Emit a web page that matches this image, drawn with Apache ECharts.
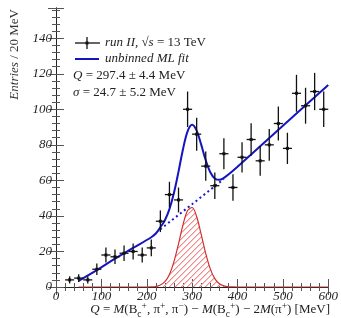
<!DOCTYPE html>
<html>
<head>
<meta charset="utf-8">
<script src="https://cdn.jsdelivr.net/npm/echarts@6/dist/echarts.min.js"></script>
<style>
  html, body { margin: 0; padding: 0; background: #fff; }
  #chart { width: 341px; height: 318px; }
</style>
</head>
<body>
<div id="chart"></div>
<script>
// bin centres (20 MeV bins) and entries
const binQ = [30, 50, 70, 90, 110, 130, 150, 170, 190, 210, 230, 250, 270, 290, 310,
              330, 350, 370, 390, 410, 430, 450, 470, 490, 510, 530, 550, 570, 590];
const entries = [4, 5, 4, 10, 18, 17, 19, 20, 18, 22, 37, 52, 49, 100, 86,
                 68, 57, 75, 56, 73, 83, 71, 80, 92, 78, 109, 102, 110, 100];
const entryErr = [2, 2.2, 2, 3.2, 4.2, 4.1, 4.4, 4.5, 4.2, 4.7, 6.1, 7.2, 7, 10, 9.3,
                  8.2, 7.5, 8.7, 7.5, 8.5, 9.1, 8.4, 8.9, 9.6, 8.8, 10.4, 10.1, 10.5, 10];

// total fit curve
const fitQ = [50, 90, 130, 170, 210, 220, 230, 240, 250, 260, 270, 280,
              290, 300, 310, 320, 330, 340, 350, 360, 370, 380, 400, 500, 600];
const fitY = [3.5, 9.5, 16, 22, 28, 30.1, 33.6, 37.6, 43.8, 53, 64.9, 77.7,
              87.6, 91.3, 88, 80.1, 71.3, 64.6, 61.1, 60.3, 61.4, 63.3, 67.7, 90.7, 113.7];

// background under the peak (dotted)
const bkgQ = [230, 300, 370];
const bkgY = [32.5, 46.6, 60.8];

// signal component (hatched)
const sigQ = [50, 200, 210, 220, 230, 240, 250, 260, 270, 280, 290, 300, 310,
              320, 330, 340, 350, 360, 370, 380, 390, 400, 600];
const sigY = [0, 0, 0.05, 0.3, 1.1, 3.0, 7.1, 14.3, 24.3, 35.1, 43, 44.75, 39.5,
              29.6, 18.8, 10.2, 4.7, 1.8, 0.6, 0.15, 0.02, 0, 0];

const yTicks = [0, 20, 40, 60, 80, 100, 120, 140];

const pts = binQ.map((q, i) => [q, entries[i], entryErr[i]]);
const pairs = (xs, ys) => xs.map((x, i) => [x, ys[i]]);

// hatch pattern for the signal area: light red diagonals
const hatch = document.createElement('canvas');
hatch.width = 6; hatch.height = 6;
const hc = hatch.getContext('2d');
for (let i = 0; i < 6; i++) {
    hc.fillStyle = '#f08a8a';
    hc.fillRect(i, 5 - i, 1, 1);
    hc.fillStyle = '#f8caca';
    hc.fillRect((i + 1) % 6, 5 - i, 1, 1);
}

const FONT = 'Liberation Serif';
const axisCommon = {
    axisLine: { show: true, lineStyle: { color: '#222', width: 1 } },
    splitLine: { show: false },
    axisTick: { show: true, inside: true, length: 8, lineStyle: { color: '#555' } },
    minorTick: { show: true, splitNumber: 5, length: 4, lineStyle: { color: '#555' } }
};
const labelStyle = { fontFamily: FONT, fontStyle: 'italic', fontSize: 13, color: '#222' };

const chart = echarts.init(document.getElementById('chart'));
chart.setOption({
    animation: false,
    grid: { left: 56, right: 10, top: 8, bottom: 31 },
    xAxis: [
        Object.assign({ type: 'value', min: 0, max: 600, interval: 100, position: 'bottom',
            axisLabel: Object.assign({ margin: 3 }, labelStyle) }, axisCommon),
        Object.assign({ type: 'value', min: 0, max: 600, interval: 100, position: 'top',
            axisLabel: { show: false } }, axisCommon)
    ],
    yAxis: [
        Object.assign({ type: 'value', min: 0, max: 157, interval: 20, position: 'left',
            axisLabel: Object.assign({ margin: 4, showMaxLabel: false,
                formatter: v => yTicks.indexOf(v) >= 0 ? String(v) : '' }, labelStyle) }, axisCommon),
        Object.assign({ type: 'value', min: 0, max: 157, interval: 20, position: 'right',
            axisLabel: { show: false } }, axisCommon)
    ],
    series: [
        {
            type: 'line', data: pairs(sigQ, sigY), smooth: 0.35,
            showSymbol: false, z: 1,
            lineStyle: { color: '#d03030', width: 1.2 },
            areaStyle: { color: { image: hatch, repeat: 'repeat' }, opacity: 1 }
        },
        {
            type: 'line', data: pairs(bkgQ, bkgY), smooth: 0.3, showSymbol: false, z: 2,
            lineStyle: { color: '#1a1acc', width: 2, type: [2, 3] }
        },
        {
            type: 'line', data: pairs(fitQ, fitY), smooth: 0.35,
            showSymbol: false, z: 3,
            lineStyle: { color: '#1414c0', width: 2 }
        },
        {
            type: 'custom', z: 4, clip: true, data: pts,
            encode: { x: 0, y: 1 },
            renderItem: function (params, api) {
                const q = api.value(0), n = api.value(1), e = api.value(2);
                const c = api.coord([q, n]);
                const t = api.coord([q, n + e]);
                const b = api.coord([q, Math.max(0, n - e)]);
                const l = api.coord([q - 10, n]);
                const r = api.coord([q + 10, n]);
                const st = { stroke: '#111', lineWidth: 1.3 };
                return {
                    type: 'group',
                    children: [
                        { type: 'line', shape: { x1: t[0], y1: t[1], x2: b[0], y2: b[1] }, style: st },
                        { type: 'line', shape: { x1: l[0], y1: l[1], x2: r[0], y2: r[1] }, style: st },
                        { type: 'rect', shape: { x: c[0] - 1.5, y: c[1] - 1.5, width: 3, height: 3 },
                          style: { fill: '#111' } }
                    ]
                };
            }
        }
    ],
    graphic: [
        // y axis title
        {
            type: 'text', x: 15, y: 9, rotation: Math.PI / 2,
            style: {
                text: '{i|Entries} / 20 MeV', align: 'right', verticalAlign: 'middle',
                font: '13px ' + FONT, fill: '#333',
                rich: { i: { fontStyle: 'italic', fontFamily: FONT, fontSize: 13, fill: '#333' } }
            }
        },
        // legend: data marker
        { type: 'line', shape: { x1: 75, y1: 43, x2: 100, y2: 43 }, style: { stroke: '#111', lineWidth: 1.3 } },
        { type: 'line', shape: { x1: 87, y1: 37, x2: 87, y2: 49 }, style: { stroke: '#111', lineWidth: 1.3 } },
        { type: 'rect', shape: { x: 85.5, y: 41.5, width: 3, height: 3 }, style: { fill: '#111' } },
        {
            type: 'text', x: 105, y: 43,
            style: {
                text: '{i|run II,} {r|√}{i|s} {r|= 13 TeV}', verticalAlign: 'middle',
                font: '13px ' + FONT, fill: '#222',
                rich: {
                    i: { fontStyle: 'italic', fontFamily: FONT, fontSize: 13, fill: '#222' },
                    r: { fontFamily: FONT, fontSize: 13, fill: '#222' }
                }
            }
        },
        // legend: fit line
        { type: 'line', shape: { x1: 75, y1: 59, x2: 99, y2: 59 }, style: { stroke: '#1414c0', lineWidth: 2 } },
        {
            type: 'text', x: 105, y: 59,
            style: { text: 'unbinned ML fit', verticalAlign: 'middle',
                font: 'italic 13px ' + FONT, fill: '#222' }
        },
        {
            type: 'text', x: 73, y: 76,
            style: {
                text: '{i|Q} = 297.4 ± 4.4 MeV', verticalAlign: 'middle',
                font: '13px ' + FONT, fill: '#222',
                rich: { i: { fontStyle: 'italic', fontFamily: FONT, fontSize: 13, fill: '#222' } }
            }
        },
        {
            type: 'text', x: 73, y: 93,
            style: {
                text: '{i|σ} = 24.7 ± 5.2 MeV', verticalAlign: 'middle',
                font: '13px ' + FONT, fill: '#222',
                rich: { i: { fontStyle: 'italic', fontFamily: FONT, fontSize: 13, fill: '#222' } }
            }
        },
        // x axis title
        {
            type: 'text', x: 330, y: 310,
            style: {
                text: '{i|Q} = {i|M}(B{sub|c}{sup|+}, π{sup|+}, π{sup|−}) − {i|M}(B{sub|c}{sup|+}) − 2{i|M}(π{sup|+}) [MeV]',
                align: 'right', verticalAlign: 'middle',
                font: '13px ' + FONT, fill: '#222',
                rich: {
                    i: { fontStyle: 'italic', fontFamily: FONT, fontSize: 13, fill: '#222', lineHeight: 18 },
                    sup: { fontFamily: FONT, fontSize: 9.5, fill: '#222', verticalAlign: 'top', lineHeight: 18 },
                    sub: { fontFamily: FONT, fontSize: 9.5, fill: '#222', verticalAlign: 'bottom', lineHeight: 18 }
                }
            }
        }
    ]
});
</script>
</body>
</html>
